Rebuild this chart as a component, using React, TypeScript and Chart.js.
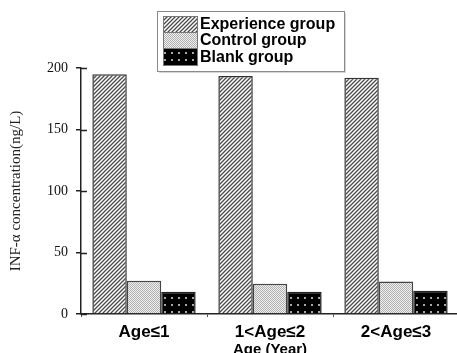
import { useEffect, useRef } from "react";
import { Chart, registerables } from "chart.js";

Chart.register(...registerables);

const categories = ["Age≤1", "1<Age≤2", "2<Age≤3"];
const seriesNames = ["Experience group", "Control group", "Blank group"];
const experience = [195, 193.5, 192];
const control = [27, 24.5, 26.5];
const blank = [18, 18, 19];
const yTickValues = [0, 50, 100, 150, 200];
const yTitle = "INF-α concentration(ng/L)";
const xTitle = "Age (Year)";

function makePattern(kind: string): CanvasPattern | string {
  const c = document.createElement("canvas");
  const ctx = c.getContext("2d");
  if (!ctx) return "#ccc";
  if (kind === "hatch") {
    const s = 4;
    c.width = s;
    c.height = s;
    ctx.fillStyle = "#ffffff";
    ctx.fillRect(0, 0, s, s);
    ctx.strokeStyle = "#4a4a4a";
    ctx.lineWidth = 1.3;
    ctx.beginPath();
    ctx.moveTo(0, s);
    ctx.lineTo(s, 0);
    ctx.moveTo(-1, 1);
    ctx.lineTo(1, -1);
    ctx.moveTo(s - 1, s + 1);
    ctx.lineTo(s + 1, s - 1);
    ctx.stroke();
  } else if (kind === "dots") {
    c.width = 2;
    c.height = 2;
    ctx.fillStyle = "#f0f0f0";
    ctx.fillRect(0, 0, 2, 2);
    ctx.fillStyle = "#b0b0b0";
    ctx.fillRect(0, 0, 1, 1);
    ctx.fillRect(1, 1, 1, 1);
  } else {
    c.width = 7;
    c.height = 7;
    ctx.fillStyle = "#000000";
    ctx.fillRect(0, 0, 7, 7);
    ctx.fillStyle = "#a8a8a8";
    ctx.fillRect(3, 3, 2, 2);
  }
  return ctx.createPattern(c, "repeat") || "#ccc";
}

const innerTicks = {
  id: "innerTicks",
  afterDatasetsDraw(chart: any) {
    const y = chart.scales.y;
    const ctx = chart.ctx;
    ctx.save();
    ctx.strokeStyle = "#222";
    ctx.lineWidth = 1.5;
    yTickValues.forEach((v) => {
      const py = Math.round(y.getPixelForValue(v)) + 0.5;
      ctx.beginPath();
      ctx.moveTo(y.right, py);
      ctx.lineTo(y.right + 6, py);
      ctx.stroke();
    });
    ctx.restore();
  },
};

const boxLegend = {
  id: "boxLegend",
  afterDraw(chart: any) {
    const ctx = chart.ctx;
    const bx = 157;
    const by = 11;
    const bw = 187;
    const bh = 60;
    ctx.save();
    ctx.fillStyle = "#d8d8d8";
    ctx.fillRect(bx + 2, by + bh, bw, 2);
    ctx.fillRect(bx + bw, by + 2, 2, bh);
    ctx.fillStyle = "#ffffff";
    ctx.fillRect(bx, by, bw, bh);
    ctx.strokeStyle = "#8a8a8a";
    ctx.lineWidth = 1;
    ctx.strokeRect(bx + 0.5, by + 0.5, bw, bh);
    const rowTops = [16, 32, 48];
    const rowH = [16, 16, 17];
    chart.data.datasets.forEach((ds: any, i: number) => {
      ctx.fillStyle = ds.backgroundColor;
      ctx.fillRect(163, rowTops[i], 34, rowH[i]);
      ctx.strokeStyle = "#777";
      ctx.strokeRect(163.5, rowTops[i] + 0.5, 34, rowH[i]);
      ctx.fillStyle = "#000";
      ctx.font = "bold 16px 'Liberation Sans', Arial, sans-serif";
      ctx.textBaseline = "middle";
      ctx.textAlign = "left";
      ctx.fillText(ds.label, 200, rowTops[i] + rowH[i] / 2 + 1);
    });
    ctx.restore();
  },
};

export default function App() {
  const ref = useRef<HTMLCanvasElement | null>(null);
  useEffect(() => {
    document.body.style.overflow = "hidden";
    const canvas = ref.current;
    if (!canvas) return;
    const chart = new Chart(canvas, {
      type: "bar",
      data: {
        labels: categories,
        datasets: [
          {
            label: seriesNames[0],
            data: experience,
            backgroundColor: makePattern("hatch") as any,
            borderColor: "#333",
            borderWidth: 1.5,
          },
          {
            label: seriesNames[1],
            data: control,
            backgroundColor: makePattern("dots") as any,
            borderColor: "#444",
            borderWidth: 1.5,
          },
          {
            label: seriesNames[2],
            data: blank,
            backgroundColor: makePattern("black") as any,
            borderColor: "#222",
            borderWidth: 1.5,
          },
        ],
      },
      options: {
        responsive: false,
        animation: false,
        layout: { padding: { top: 68, right: 1, left: 0, bottom: 0 } },
        datasets: { bar: { categoryPercentage: 0.82, barPercentage: 1 } },
        plugins: {
          legend: { display: false },
          tooltip: { enabled: false },
        },
        scales: {
          x: {
            grid: {
              drawOnChartArea: false,
              tickLength: 3,
              color: "#555",
              offset: true,
            },
            border: { display: true, color: "#222", width: 1.5 },
            ticks: {
              color: "#000",
              padding: 5,
              font: { family: "'Liberation Sans', Arial, sans-serif", size: 17, weight: "bold" },
            },
            title: {
              display: true,
              text: xTitle,
              color: "#000",
              padding: { top: 0, bottom: 3 },
              font: { family: "'Liberation Sans', Arial, sans-serif", size: 15, weight: "bold" },
            },
            afterFit: (s: any) => {
              s.height = 48;
            },
          },
          y: {
            min: 0,
            max: 200,
            afterBuildTicks: (s: any) => {
              s.ticks = yTickValues.map((v) => ({ value: v }));
            },
            grid: {
              drawOnChartArea: false,
              tickLength: 5,
              color: "#222",
              lineWidth: 1.5,
            },
            border: { display: true, color: "#222", width: 1.5 },
            ticks: {
              color: "#111",
              padding: 8,
              font: { family: "'Liberation Serif', 'Times New Roman', serif", size: 14 },
            },
            title: {
              display: true,
              text: yTitle,
              color: "#222",
              padding: { top: 7, bottom: 0 },
              font: { family: "'Liberation Serif', 'Times New Roman', serif", size: 15 },
            },
            afterFit: (s: any) => {
              s.width = 81;
            },
          },
        },
      },
      plugins: [innerTicks, boxLegend],
    });
    return () => chart.destroy();
  }, []);
  return (
    <canvas
      ref={ref}
      width={460}
      height={362}
      style={{ position: "absolute", left: 0, top: 0, display: "block" }}
    />
  );
}
